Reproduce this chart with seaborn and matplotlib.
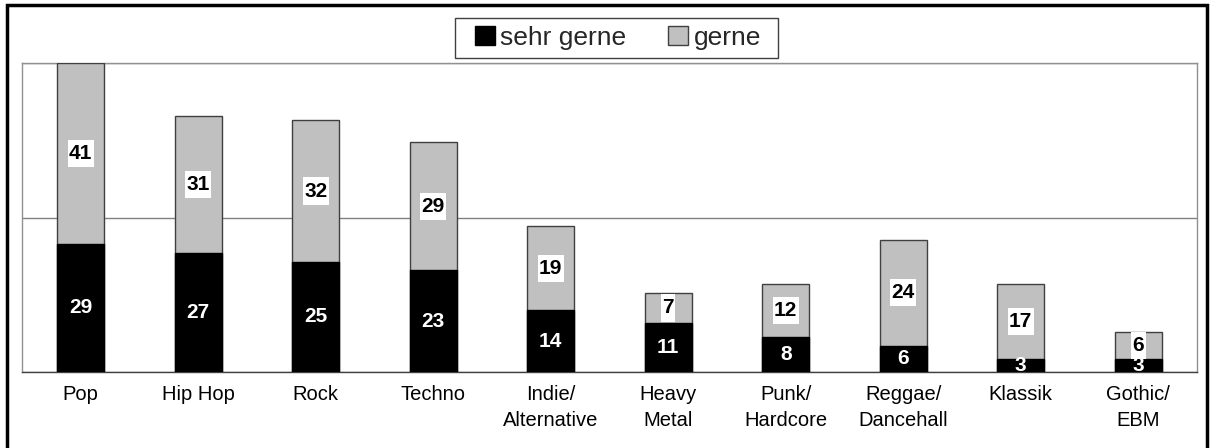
import matplotlib
matplotlib.use("Agg")
import matplotlib.pyplot as plt
from matplotlib.patches import Rectangle, Patch
from matplotlib.path import Path
import seaborn as sns
import pandas as pd
import numpy as np

categories = ["Pop", "Hip Hop", "Rock", "Techno", "Indie/\nAlternative", "Heavy\nMetal",
              "Punk/\nHardcore", "Reggae/\nDancehall", "Klassik", "Gothic/\nEBM"]
sehr_gerne = [29, 27, 25, 23, 14, 11, 8, 6, 3, 3]
gerne = [41, 31, 32, 29, 19, 7, 12, 24, 17, 6]

sns.set_theme(style="white")
plt.rcParams["font.family"] = ["Liberation Sans", "DejaVu Sans"]

df = pd.DataFrame({"cat": categories, "sehr": sehr_gerne, "gerne": gerne})
df["total"] = df["sehr"] + df["gerne"]

W, H = 1213, 448
fig = plt.figure(figsize=(W / 100, H / 100), dpi=100)
ax = fig.add_axes([22 / W, (H - 372) / H, (1197 - 22) / W, (372 - 63) / H])

sns.barplot(data=df, x="cat", y="total", color="#c0c0c0", edgecolor="#404040",
            linewidth=1, width=0.4, saturation=1, ax=ax, zorder=3)
sns.barplot(data=df, x="cat", y="sehr", color="#000000", edgecolor="#000000",
            linewidth=1, width=0.4, saturation=1, ax=ax, zorder=3)

ax.set_ylim(0, 70)
ax.set_xlim(-0.5, len(categories) - 0.5)
ax.set_xlabel("")
ax.set_ylabel("")
ax.set_yticks([0, 35, 70])
ax.set_yticklabels([])
ax.tick_params(axis="y", length=0)
ax.yaxis.grid(True, color="#808080", linewidth=1)
ax.set_axisbelow(True)

ax.set_xticks(range(len(categories)))
ax.set_xticklabels(categories, fontsize=14.5, color="#000000", linespacing=1.5)
ax.tick_params(axis="x", length=0, pad=9)
ax.set_xticks(np.arange(-0.5, len(categories), 1), minor=True)
ax.tick_params(axis="x", which="minor", length=6, color="#404040", width=1, direction="out")

for side in ["left", "top", "right"]:
    ax.spines[side].set_color("#909090")
    ax.spines[side].set_linewidth(1)
ax.spines["bottom"].set_color("#404040")
ax.spines["bottom"].set_linewidth(1)


def tall_box(x0, y0, width, height, mutation_size):
    px = 0.07 * mutation_size
    py = 0.2 * mutation_size
    x0, y0 = x0 - px, y0 - py
    x1, y1 = x0 + width + 2 * px, y0 + height + 2 * py
    return Path([(x0, y0), (x1, y0), (x1, y1), (x0, y1), (x0, y0)], closed=True)


# labels
for i, (s, g) in enumerate(zip(sehr_gerne, gerne)):
    ax.text(i, s / 2, str(s), ha="center", va="center", color="white",
            fontsize=15, fontweight="bold", zorder=5)
for i, (s, g) in enumerate(zip(sehr_gerne, gerne)):
    ax.text(i, s + g / 2, str(g), ha="center", va="center", color="black",
            fontsize=15, fontweight="bold", zorder=6,
            bbox=dict(boxstyle=tall_box, facecolor="white", edgecolor="none"))

handles = [Patch(facecolor="#000000", edgecolor="#000000", label="sehr gerne"),
           Patch(facecolor="#c0c0c0", edgecolor="#404040", label="gerne")]
leg = fig.legend(handles=handles, loc="center", bbox_to_anchor=(618 / W, 1 - 38 / H),
                 ncol=2, frameon=False, fontsize=19,
                 handlelength=0.75, handleheight=0.75, handletextpad=0.2,
                 columnspacing=1.6, borderpad=0.2, borderaxespad=0)
fig.patches.append(Rectangle((455 / W, 1 - 58 / H), (778 - 455) / W, 40 / H,
                             transform=fig.transFigure, fill=False,
                             edgecolor="#404040", linewidth=1))

fig.patches.append(Rectangle((7 / W, -0.01), (1207 - 7) / W, 1 - 5 / H + 0.01,
                             transform=fig.transFigure, fill=False,
                             edgecolor="black", linewidth=2.5))

fig.savefig("out.png", dpi=100)
